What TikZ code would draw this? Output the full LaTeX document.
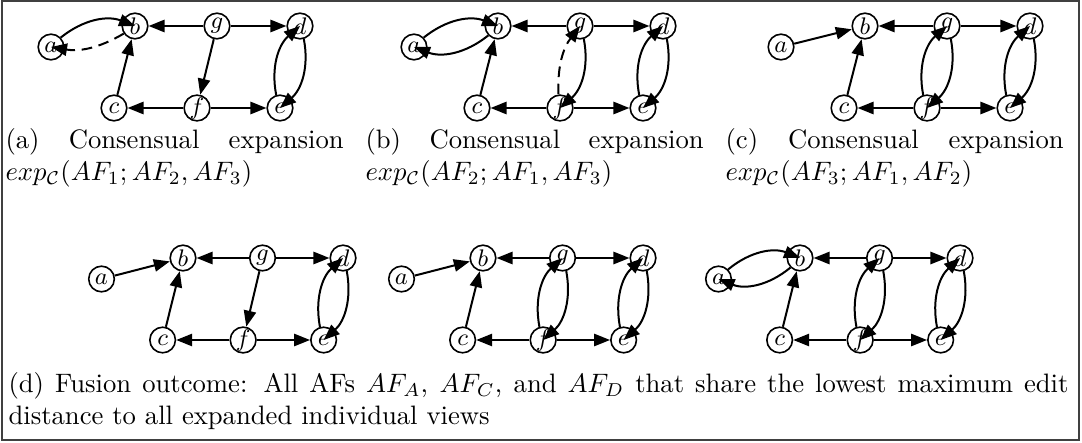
\documentclass[tikz,border=0pt]{standalone}
\usepackage{amsmath,amssymb}
\usetikzlibrary{arrows.meta}

\tikzset{
  arg/.style={circle, draw, line width=0.6pt, minimum size=9.6pt, inner sep=0pt, font=\small},
  att/.style={-{Triangle[length=6pt,width=4.6pt]}, line width=0.75pt},
  attdash/.style={att, dash pattern=on 4pt off 2.5pt},
  subcap/.style={anchor=north west, inner sep=0pt, align=left},
}

% the seven arguments and the attacks every view shares
\newcommand{\afnodes}{%
  \node[arg] (a) at (-84,21) {$a$};
  \node[arg] (b) at (0,0) {$b$};
  \node[arg] (g) at (82,0) {$g$};
  \node[arg] (d) at (165,0) {$d$};
  \node[arg] (c) at (-21,82) {$c$};
  \node[arg] (f) at (62,82) {$f$};
  \node[arg] (e) at (145,82) {$e$};
  \draw[att] (g) -- (b);
  \draw[att] (g) -- (d);
  \draw[att] (c) -- (b);
  \draw[att] (f) -- (c);
  \draw[att] (f) -- (e);
  \draw[att] (d) to[bend left=30] (e);
  \draw[att] (e) to[bend left=30] (d);
}

\begin{document}
\begin{tikzpicture}[x=0.375pt, y=-0.375pt]
    \useasboundingbox (0,0) rectangle (1082,442);
    \draw[black!75, line width=0.5pt] (2,1) rectangle (1079,440);

    % (a) expansion of AF_1
    \begin{scope}[shift={(135,26)}, name prefix=A-]
      \afnodes
      \draw[att] (a) to[bend left=30] (b);
      \draw[attdash] (b) to[bend left=20] (a);
      \draw[att] (g) -- (f);
    \end{scope}
    \node[subcap] (capA) at (5,128) {\makebox[126.8pt][s]{(a) Consensual expansion}\\
      $exp_{\mathcal{C}}(AF_1; AF_2, AF_3)$};

    % (b) expansion of AF_2
    \begin{scope}[shift={(498,26)}, name prefix=B-]
      \afnodes
      \draw[att] (a) to[bend left=30] (b);
      \draw[att] (b) to[bend left=30] (a);
      \draw[att] (g) to[bend left=30] (f);
      \draw[attdash] (f) to[bend left=20] (g);
    \end{scope}
    \node[subcap] (capB) at (365,128) {\makebox[126.8pt][s]{(b) Consensual expansion}\\
      $exp_{\mathcal{C}}(AF_2; AF_1, AF_3)$};

    % (c) expansion of AF_3
    \begin{scope}[shift={(865,26)}, name prefix=C-]
      \afnodes
      \draw[att] (a) -- (b);
      \draw[att] (g) to[bend left=30] (f);
      \draw[att] (f) to[bend left=30] (g);
    \end{scope}
    \node[subcap] (capC) at (725,128) {\makebox[126.8pt][s]{(c) Consensual expansion}\\
      $exp_{\mathcal{C}}(AF_3; AF_1, AF_2)$};

    % (d) fusion outcomes AF_A, AF_C, AF_D
    \begin{scope}[shift={(183,258)}, xscale=0.97, name prefix=DA-]
      \afnodes
      \draw[att] (a) -- (b);
      \draw[att] (g) -- (f);
    \end{scope}
    \begin{scope}[shift={(483,258)}, xscale=0.97, name prefix=DC-]
      \afnodes
      \draw[att] (a) -- (b);
      \draw[att] (g) to[bend left=30] (f);
      \draw[att] (f) to[bend left=30] (g);
    \end{scope}
    \begin{scope}[shift={(800,258)}, xscale=0.97, name prefix=DD-]
      \afnodes
      \draw[att] (a) to[bend left=30] (b);
      \draw[att] (b) to[bend left=30] (a);
      \draw[att] (g) to[bend left=30] (f);
      \draw[att] (f) to[bend left=30] (g);
    \end{scope}
    \node[subcap] (capD) at (8,372) {\makebox[397.5pt][s]{(d) Fusion outcome: All AFs $AF_A$, $AF_C$, and $AF_D$ that share the lowest maximum edit}\\
      distance to all expanded individual views};
\end{tikzpicture}
\end{document}
